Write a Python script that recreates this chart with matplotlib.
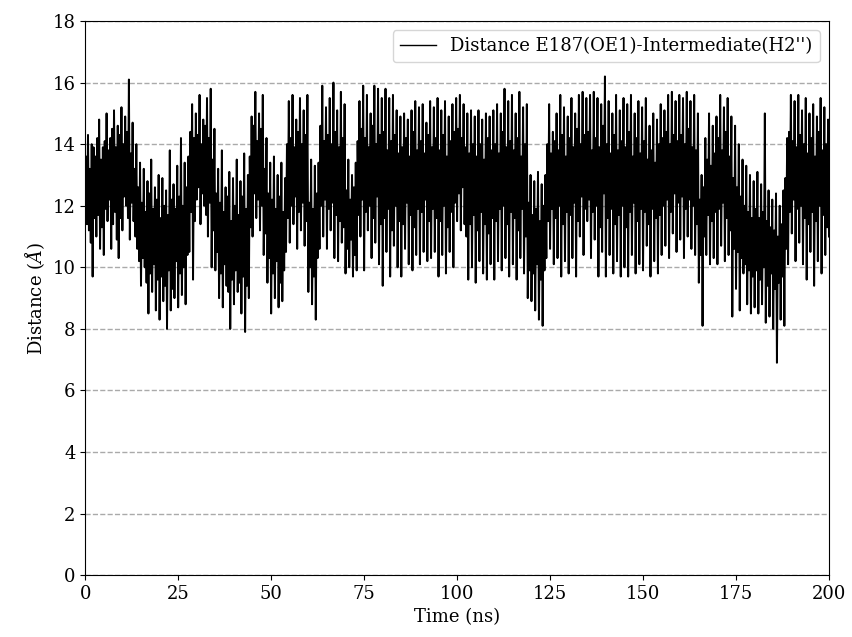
import numpy as np
import matplotlib
matplotlib.use("Agg")
import matplotlib.pyplot as plt

plt.rcParams['font.family'] = 'DejaVu Serif'
plt.rcParams['mathtext.fontset'] = 'dejavuserif'

# distance samples every 0.25 ns (one row = 5 ns)
distance = [
    12.0, 13.6, 11.4, 14.3, 11.2, 13.2, 10.8, 14.0, 9.7, 13.9, 11.6, 13.6, 11.0, 14.2, 11.7, 14.8, 10.6, 13.5, 11.3, 13.9,
    10.4, 14.1, 11.9, 15.0, 11.5, 13.8, 12.2, 14.2, 10.6, 14.5, 11.4, 15.1, 11.8, 13.9, 10.9, 14.6, 10.3, 14.3, 11.6, 15.2,
    11.2, 14.0, 12.3, 14.9, 12.0, 14.4, 11.6, 16.1, 10.9, 13.7, 12.1, 14.7, 11.5, 13.2, 11.0, 14.0, 10.6, 12.6, 10.2, 13.4,
    9.4, 12.1, 10.3, 13.2, 10.0, 11.8, 9.5, 12.8, 8.5, 12.4, 9.8, 13.5, 9.2, 11.9, 10.1, 12.6, 8.6, 12.2, 9.6, 13.0,
    8.3, 11.6, 9.7, 12.9, 8.9, 12.0, 9.4, 12.5, 8.0, 11.7, 9.9, 13.8, 8.6, 12.2, 9.3, 12.7, 9.0, 11.9, 10.2, 13.3,
    8.7, 12.3, 9.8, 14.2, 9.1, 12.0, 10.0, 13.4, 8.8, 12.6, 10.4, 13.6, 10.5, 14.4, 11.8, 15.3, 9.6, 14.2, 11.5, 15.0,
    12.2, 14.3, 12.6, 15.6, 11.4, 14.0, 12.4, 14.8, 12.0, 14.6, 11.7, 15.5, 11.0, 14.2, 12.1, 15.8, 10.0, 13.5, 11.2, 14.5,
    9.9, 12.4, 10.5, 13.2, 9.0, 12.1, 9.8, 13.8, 8.7, 11.8, 10.1, 12.6, 9.4, 12.3, 9.2, 13.1, 8.0, 11.5, 9.6, 12.9,
    8.8, 12.0, 9.9, 13.5, 9.2, 11.7, 9.5, 12.8, 8.5, 12.3, 9.7, 13.7, 7.9, 11.9, 9.4, 13.0, 9.0, 13.6, 11.3, 14.9,
    11.0, 14.6, 12.4, 15.7, 11.6, 14.1, 12.2, 15.0, 11.2, 14.5, 12.0, 15.6, 10.4, 13.2, 11.1, 14.2, 9.5, 12.4, 10.3, 13.4,
    8.5, 12.2, 9.8, 13.6, 9.0, 11.9, 10.2, 13.0, 8.7, 12.3, 9.5, 13.4, 8.9, 11.8, 9.9, 12.9, 10.5, 14.0, 11.6, 15.4,
    10.8, 14.2, 12.0, 15.6, 11.4, 13.9, 12.3, 14.8, 10.6, 14.4, 11.8, 15.5, 11.2, 14.0, 12.1, 15.1, 10.7, 14.3, 11.5, 15.6,
    9.2, 12.1, 10.0, 13.5, 8.8, 11.9, 9.7, 13.3, 8.3, 12.4, 10.3, 13.4, 10.6, 14.6, 12.0, 15.9, 11.0, 14.1, 12.2, 15.2,
    10.6, 14.3, 11.9, 15.5, 11.2, 14.0, 12.1, 16.0, 10.3, 14.4, 11.7, 15.1, 10.2, 13.9, 11.5, 15.7, 10.8, 14.2, 11.3, 15.3,
    9.8, 12.5, 10.6, 13.5, 10.0, 12.2, 10.9, 13.0, 9.7, 12.6, 10.4, 13.4, 9.9, 14.1, 11.7, 15.4, 11.0, 14.5, 12.2, 15.9,
    9.9, 14.2, 11.8, 15.6, 11.2, 13.9, 12.0, 15.0, 10.3, 14.6, 11.6, 15.9, 10.8, 14.0, 12.3, 15.8, 10.1, 14.3, 11.4, 15.5,
    9.4, 14.4, 11.6, 15.8, 10.5, 13.8, 11.9, 15.5, 9.7, 14.1, 11.2, 15.6, 10.7, 14.3, 12.0, 15.1, 10.0, 13.7, 11.5, 14.9,
    9.7, 13.9, 11.4, 15.0, 10.6, 14.2, 12.1, 14.8, 10.1, 13.6, 11.7, 15.1, 9.9, 14.4, 11.3, 15.4, 10.4, 13.8, 11.9, 15.2,
    10.1, 14.1, 11.8, 15.3, 10.5, 13.7, 12.2, 14.7, 10.2, 14.3, 11.5, 15.4, 10.3, 13.9, 11.9, 15.2, 10.5, 14.2, 11.6, 15.5,
    9.7, 13.8, 11.5, 15.1, 10.4, 14.3, 12.0, 15.4, 9.8, 13.6, 11.3, 14.9, 10.5, 14.1, 11.8, 15.3, 10.0, 14.4, 12.1, 15.5,
    11.5, 14.5, 12.4, 15.6, 11.2, 14.2, 12.6, 15.3, 11.4, 13.9, 11.0, 15.0, 9.6, 13.7, 11.4, 15.1, 10.0, 14.0, 11.7, 14.9,
    9.5, 13.6, 11.2, 15.1, 10.2, 14.0, 11.8, 14.8, 9.8, 13.5, 11.4, 15.0, 9.6, 14.2, 11.1, 14.9, 10.1, 13.8, 11.6, 15.1,
    9.6, 14.0, 11.5, 15.3, 10.2, 13.7, 11.9, 15.0, 9.9, 14.4, 12.0, 15.8, 10.3, 13.9, 11.4, 15.4, 9.7, 14.1, 11.8, 15.6,
    10.1, 13.8, 11.6, 15.0, 9.6, 14.2, 11.2, 15.7, 10.3, 13.6, 11.9, 15.2, 9.8, 14.0, 11.0, 15.3, 9.0, 12.1, 9.9, 13.0,
    8.9, 11.7, 9.8, 12.8, 8.6, 11.9, 10.1, 13.1, 8.3, 11.5, 9.6, 12.7, 8.1, 12.0, 9.9, 13.0, 10.3, 14.0, 11.5, 15.3,
    10.6, 13.7, 11.9, 14.4, 10.1, 14.1, 11.6, 15.0, 10.3, 13.8, 12.0, 15.6, 9.7, 14.3, 11.4, 15.2, 10.2, 13.6, 11.8, 14.9,
    9.8, 14.2, 11.7, 15.5, 10.3, 13.9, 12.1, 15.0, 9.7, 14.5, 11.5, 15.6, 11.0, 14.0, 12.3, 15.7, 10.4, 14.3, 11.9, 15.5,
    11.5, 14.4, 12.2, 15.6, 10.3, 13.8, 11.8, 15.7, 10.9, 14.2, 12.0, 15.5, 9.7, 13.9, 11.3, 15.3, 10.5, 14.6, 12.4, 16.2,
    9.7, 14.0, 11.6, 15.4, 10.4, 13.7, 11.9, 15.0, 9.8, 14.3, 11.4, 15.6, 10.2, 13.8, 11.7, 15.1, 9.7, 14.1, 12.0, 15.5,
    10.0, 13.9, 11.3, 15.3, 9.7, 14.4, 11.8, 15.6, 10.4, 13.6, 12.1, 15.0, 9.8, 14.2, 11.5, 15.4, 10.1, 13.7, 11.9, 15.2,
    9.9, 14.1, 11.8, 15.5, 10.7, 13.5, 11.4, 14.6, 9.7, 13.8, 11.9, 15.0, 10.2, 13.4, 11.6, 14.8, 9.8, 14.0, 11.7, 15.3,
    10.4, 14.2, 12.0, 15.1, 10.7, 14.4, 12.2, 15.6, 10.3, 14.0, 11.8, 15.7, 11.1, 14.3, 12.4, 15.4, 10.5, 14.1, 12.1, 15.6,
    10.9, 14.3, 12.3, 15.5, 10.3, 14.0, 11.9, 15.7, 11.0, 14.5, 12.2, 15.4, 10.6, 13.9, 12.0, 15.6, 10.4, 13.8, 11.4, 15.0,
    9.5, 12.2, 10.4, 13.0, 8.1, 12.6, 11.0, 14.2, 10.4, 13.5, 11.7, 15.0, 10.1, 13.3, 11.5, 14.6, 10.3, 13.7, 11.8, 14.9,
    10.1, 14.2, 11.9, 15.6, 10.7, 13.8, 12.1, 15.2, 10.2, 14.4, 11.6, 15.5, 10.4, 13.6, 11.2, 14.9, 8.4, 12.9, 10.6, 14.6,
    9.3, 12.6, 10.5, 14.0, 8.6, 12.3, 10.3, 13.5, 9.8, 12.0, 10.1, 13.3, 8.8, 11.8, 9.9, 13.0, 8.5, 11.6, 9.7, 12.8,
    8.7, 11.9, 9.9, 13.1, 8.5, 11.6, 9.6, 12.7, 8.8, 11.8, 10.0, 15.0, 8.2, 11.5, 9.4, 12.5, 8.4, 11.3, 9.8, 12.2,
    8.0, 11.2, 9.3, 12.4, 6.9, 11.0, 9.5, 12.0, 8.3, 11.4, 9.7, 12.5, 8.1, 12.9, 10.6, 14.2, 10.1, 14.4, 11.8, 15.6,
    11.1, 14.1, 12.2, 15.4, 10.2, 13.9, 11.9, 15.6, 10.8, 14.3, 12.0, 15.1, 10.1, 14.0, 11.6, 15.5, 9.6, 13.7, 11.4, 15.0,
    10.5, 14.2, 11.8, 15.3, 9.4, 13.6, 11.5, 14.9, 10.2, 14.4, 12.0, 15.5, 9.8, 13.8, 11.7, 15.2, 10.4, 14.0, 11.3, 14.8,
    11.0,
]
time_ns = np.arange(len(distance)) * 0.25

fig, ax = plt.subplots(figsize=(8.52, 6.37), dpi=100)
fig.subplots_adjust(left=0.1, right=0.973, top=0.967, bottom=0.097)

ax.plot(time_ns, distance, color='black', linewidth=1.4,
        label="Distance E187(OE1)-Intermediate(H2'')")
ax.set_xlim(0, 200)
ax.set_ylim(0, 18)
ax.set_xticks(np.arange(0, 201, 25))
ax.set_yticks(np.arange(0, 19, 2))
ax.yaxis.grid(True, linestyle='--', color='#aaaaaa', linewidth=1.0)
ax.set_axisbelow(True)
ax.tick_params(labelsize=13)
ax.set_xlabel('Time (ns)', fontsize=13)
ax.set_ylabel(r'Distance ($\AA$)', fontsize=13)
leg = ax.legend(loc='upper right', fontsize=13, handlelength=2.0)
leg.get_lines()[0].set_linewidth(1.0)

fig.savefig('out.png', dpi=100)
